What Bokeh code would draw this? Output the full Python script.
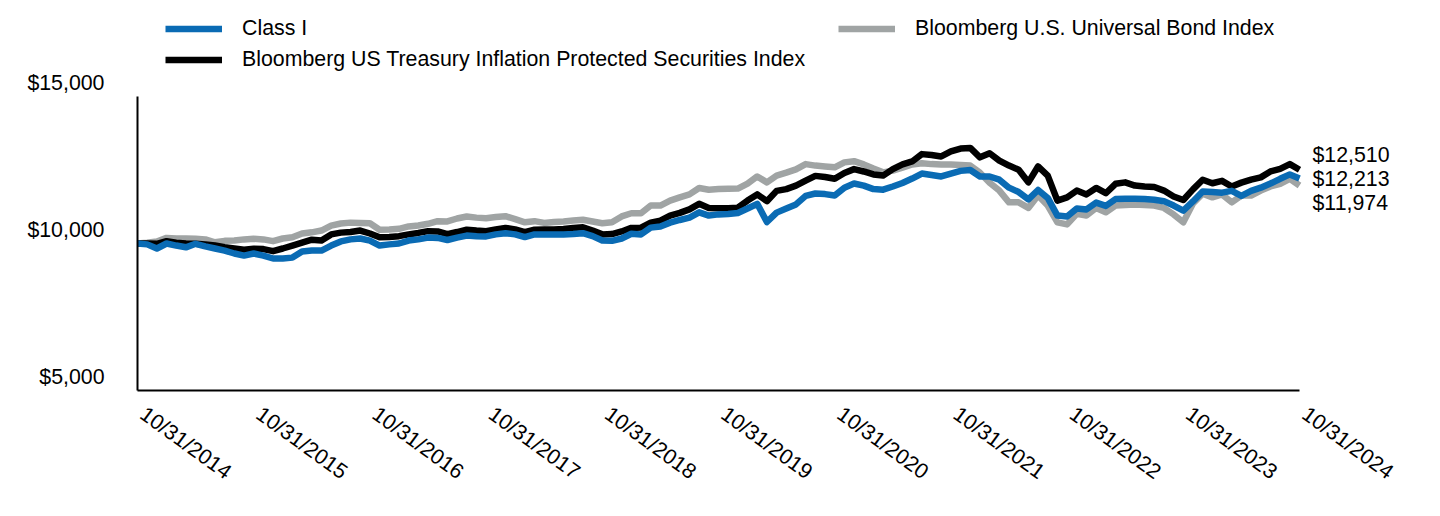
import math
from bokeh.plotting import figure
from bokeh.models import (Range1d, FixedTicker, Legend, LegendItem, LinearAxis,
                          NumeralTickFormatter)
from bokeh.embed import file_html
from bokeh.resources import INLINE

# ---- data ----
tick_labels = ["10/31/2014", "10/31/2015", "10/31/2016", "10/31/2017", "10/31/2018",
               "10/31/2019", "10/31/2020", "10/31/2021", "10/31/2022", "10/31/2023",
               "10/31/2024"]
tick_months = [0, 12, 24, 36, 48, 60, 72, 84, 96, 108, 120]
months = list(range(121))
y_ticks = [5000, 10000, 15000]

class_i = [
    10000, 9970, 9830, 10000, 9930, 9870, 9990, 9900, 9830, 9760,
    9660, 9590, 9660, 9590, 9490, 9490, 9520, 9730, 9760, 9760,
    9930, 10070, 10140, 10170, 10100, 9930, 9970, 10000, 10100, 10140,
    10200, 10190, 10120, 10200, 10270, 10250, 10240, 10310, 10350, 10310,
    10220, 10310, 10310, 10310, 10310, 10320, 10350, 10250, 10100, 10090,
    10170, 10330, 10310, 10540, 10580, 10710, 10800, 10880, 11060, 10950,
    10990, 11000, 11040, 11190, 11350, 10730, 11050, 11190, 11330, 11620,
    11700, 11680, 11630, 11900, 12040, 11970, 11850, 11830, 11940, 12060,
    12210, 12380, 12330, 12280, 12380, 12470, 12500, 12280, 12280, 12170,
    11900, 11750, 11500, 11820, 11550, 10950, 10920, 11190, 11160, 11390,
    11280, 11510, 11520, 11520, 11510, 11490, 11440, 11290, 11120, 11430,
    11770, 11750, 11730, 11790, 11620, 11790, 11900, 12040, 12200, 12350,
    12213]

tips = [
    10000, 10000, 9990, 10080, 10030, 10000, 9990, 9970, 9930, 9870,
    9830, 9790, 9820, 9810, 9740, 9830, 9930, 10030, 10130, 10100,
    10310, 10370, 10390, 10440, 10340, 10210, 10220, 10250, 10310, 10360,
    10420, 10410, 10320, 10390, 10470, 10440, 10420, 10480, 10530, 10480,
    10390, 10470, 10480, 10480, 10490, 10530, 10550, 10440, 10310, 10320,
    10410, 10530, 10540, 10710, 10780, 10950, 11040, 11160, 11350, 11210,
    11200, 11200, 11220, 11460, 11670, 11440, 11790, 11850, 11970, 12140,
    12300, 12260, 12200, 12400, 12530, 12450, 12350, 12310, 12530, 12690,
    12790, 13040, 13010, 12960, 13130, 13230, 13250, 12930, 13070, 12820,
    12650, 12510, 12080, 12620, 12310, 11460, 11570, 11800, 11670, 11890,
    11710, 12030, 12080, 11970, 11940, 11920, 11800, 11600, 11480, 11840,
    12170, 12050, 12130, 11940, 12070, 12170, 12250, 12450, 12540, 12700,
    12510]

universal = [
    10000, 10030, 10070, 10190, 10170, 10170, 10160, 10140, 10040, 10090,
    10100, 10140, 10160, 10140, 10080, 10170, 10210, 10340, 10380, 10440,
    10610, 10680, 10710, 10700, 10690, 10470, 10480, 10500, 10580, 10610,
    10670, 10760, 10750, 10850, 10920, 10880, 10860, 10900, 10930, 10830,
    10720, 10760, 10700, 10730, 10750, 10780, 10810, 10750, 10690, 10720,
    10920, 11030, 11030, 11290, 11290, 11460, 11570, 11670, 11890, 11830,
    11850, 11860, 11870, 12040, 12280, 12080, 12310, 12410, 12520, 12700,
    12650, 12620, 12590, 12760, 12800, 12690, 12550, 12420, 12480, 12580,
    12690, 12730, 12700, 12690, 12690, 12670, 12650, 12410, 12070, 11800,
    11400, 11400, 11210, 11630, 11290, 10720, 10650, 11010, 10950, 11210,
    11060, 11290, 11310, 11330, 11310, 11290, 11210, 10990, 10720, 11360,
    11690, 11570, 11670, 11400, 11630, 11630, 11800, 11940, 12030, 12200,
    11974]

name_class = "Class I"
name_tips = "Bloomberg US Treasury Inflation Protected Securities Index"
name_univ = "Bloomberg U.S. Universal Bond Index"

# ---- style / layout ----
FONT = "Liberation Sans"
FS = "16pt"
BLUE = "#0A6BB4"
BLACK = "#000000"
GRAY = "#A0A4A4"
LW = 6.5

W, H = 1424, 500
FRAME_LEFT = 137            # pixel column of the first month
LAST_PX = 1299              # pixel column of the last month
FRAME_RIGHT = 1311          # frame extends a little past the last month
AXIS_TOP_PX, AXIS_BOTTOM_PX = 96, 390     # pixel rows of 15,000 and 5,000
LABEL_LIFT = 14             # y tick labels sit this far above their value
XLABEL_SHIFT = 5            # x tick labels start this far right of their month

X0, X1 = months[0], months[-1]
ppm = (LAST_PX - FRAME_LEFT) / (X1 - X0)            # pixels per month
X_END = X1 + (FRAME_RIGHT - LAST_PX) / ppm
Y0, Y1 = y_ticks[0], y_ticks[-1]
vpp = (Y1 - Y0) / (AXIS_BOTTOM_PX - AXIS_TOP_PX)   # value per pixel
Y_TOP = Y0 + AXIS_BOTTOM_PX * vpp                   # frame reaches the top of the canvas

p = figure(width=W, height=H, output_backend="svg", toolbar_location=None,
           x_range=Range1d(X0, X_END), y_range=Range1d(Y0, Y_TOP),
           min_border_left=FRAME_LEFT, min_border_right=W - FRAME_RIGHT,
           min_border_top=0, min_border_bottom=H - AXIS_BOTTOM_PX)
p.outline_line_color = None
p.grid.visible = False
p.background_fill_color = "white"
p.border_fill_color = "white"

r_univ = p.line(months, universal, line_color=GRAY, line_width=LW, line_join="round")
r_tips = p.line(months, tips, line_color=BLACK, line_width=LW, line_join="round")
r_class = p.line(months, class_i, line_color=BLUE, line_width=LW, line_join="round")

def bare(axis):
    axis.major_tick_line_color = None
    axis.minor_tick_line_color = None
    axis.major_tick_out = 0
    axis.major_tick_in = 0
    axis.major_label_text_font = FONT
    axis.major_label_text_font_size = FS
    axis.major_label_text_color = "black"

# main x axis: line only, from first to last month
xa = p.xaxis[0]
bare(xa)
xa.ticker = FixedTicker(ticks=[])
xa.bounds = (X0, X1)
xa.major_label_text_font_size = "0px"
xa.major_label_standoff = 0
xa.axis_line_color = "black"
xa.axis_line_width = 2

# x tick labels on a slightly shifted range
shift = XLABEL_SHIFT / ppm
p.extra_x_ranges = {"xl": Range1d(X0 - shift, X_END - shift)}
xlab = LinearAxis(x_range_name="xl", ticker=FixedTicker(ticks=tick_months),
                  major_label_overrides={m: t for m, t in zip(tick_months, tick_labels)},
                  major_label_orientation=-36 * math.pi / 180,
                  major_label_standoff=21, axis_line_color=None)
bare(xlab)
p.add_layout(xlab, "below")

# main y axis: line only, spanning 5,000 - 15,000
ya = p.yaxis[0]
bare(ya)
ya.ticker = FixedTicker(ticks=[])
ya.bounds = (Y0, Y1)
ya.major_label_text_font_size = "0px"
ya.major_label_standoff = 0
ya.axis_line_color = "black"
ya.axis_line_width = 2

# y tick labels: an axis on a range lifted by LABEL_LIFT pixels
p.extra_y_ranges = {"lbl": Range1d(Y0 - LABEL_LIFT * vpp, Y_TOP - LABEL_LIFT * vpp)}
ylab = LinearAxis(y_range_name="lbl", ticker=FixedTicker(ticks=y_ticks),
                  formatter=NumeralTickFormatter(format="$0,0"),
                  axis_line_color=None, major_label_standoff=33)
bare(ylab)
p.add_layout(ylab, "left")

# end-value labels on the right, spread apart by pixel offsets
end_series = [tips, class_i, universal]
end_offsets_px = [15, -1, -18]
end_ticks = [round(s[-1] + d * vpp) for s, d in zip(end_series, end_offsets_px)]
rax = LinearAxis(ticker=FixedTicker(ticks=end_ticks),
                 major_label_overrides={t: f"${s[-1]:,}" for t, s in zip(end_ticks, end_series)},
                 axis_line_color=None, major_label_standoff=1312 - FRAME_RIGHT)
bare(rax)
p.add_layout(rax, "right")

def make_legend(items, loc):
    return Legend(items=items, location=loc, orientation="vertical",
                  glyph_width=57, glyph_height=23, label_height=23, label_standoff=20,
                  spacing=6, padding=0, margin=0, border_line_color=None,
                  background_fill_alpha=0, label_text_font=FONT, label_text_font_size=FS,
                  label_text_color="black")

# legends live inside the (tall) frame, above the 15,000 line
legA = make_legend([LegendItem(label=name_class, renderers=[r_class]),
                    LegendItem(label=name_tips, renderers=[r_tips])], (28, 318.5))
legB = make_legend([LegendItem(label=name_univ, renderers=[r_univ])], (701, 349.5))
p.add_layout(legA)
p.add_layout(legB)

open("out.html", "w").write(file_html(p, INLINE))
